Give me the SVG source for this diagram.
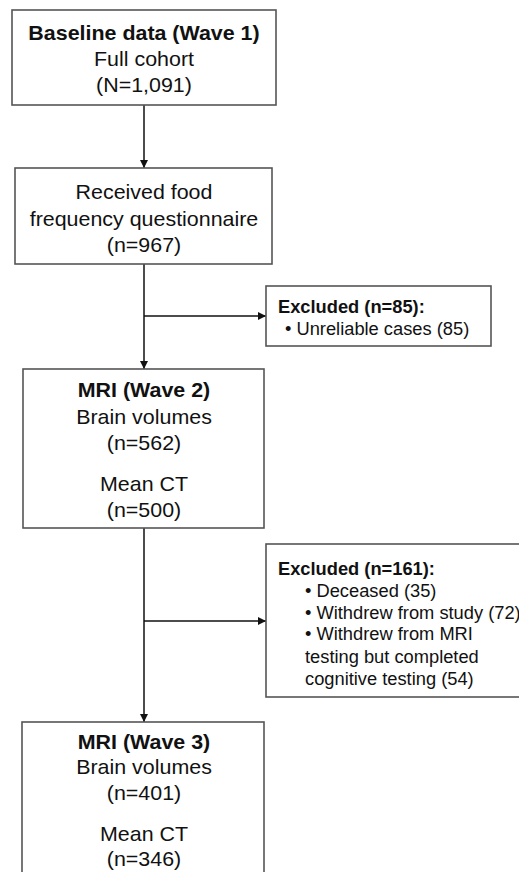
<svg xmlns="http://www.w3.org/2000/svg" width="519" height="872" viewBox="0 0 519 872">
<style>
.box{fill:#fff;stroke:#555;stroke-width:1.6}
.t{font-family:"Liberation Sans",Arial,sans-serif;font-size:21px;fill:#111;text-anchor:middle}
.b{font-weight:bold}
.x{font-family:"Liberation Sans",Arial,sans-serif;font-size:18.3px;fill:#111}
.c{stroke:#111;stroke-width:1.5;fill:none}
</style>
<defs>
<marker id="arr" viewBox="0 0 10 10" refX="10" refY="5" markerWidth="8" markerHeight="8" markerUnits="userSpaceOnUse" orient="auto">
<path d="M0,0 L10,5 L0,10 z" fill="#111"/>
</marker>
</defs>
<rect width="519" height="872" fill="#fff"/>
<g id="connectors">
<line class="c" x1="144" y1="105" x2="144" y2="168" marker-end="url(#arr)"/>
<line class="c" x1="144" y1="264" x2="144" y2="369" marker-end="url(#arr)"/>
<line class="c" x1="144" y1="316" x2="266" y2="316" marker-end="url(#arr)"/>
<line class="c" x1="144" y1="528" x2="144" y2="722" marker-end="url(#arr)"/>
<line class="c" x1="144" y1="621" x2="266" y2="621" marker-end="url(#arr)"/>
</g>
<g id="baseline">
<rect class="box" x="12" y="10" width="264" height="95"/>
<text class="t b" transform="translate(144,40) scale(1.02,1)">Baseline data (Wave 1)</text>
<text class="t" transform="translate(144,66) scale(1.02,1)">Full cohort</text>
<text class="t" transform="translate(144,92) scale(1.02,1)">(N=1,091)</text>
</g>
<g id="ffq">
<rect class="box" x="15" y="168" width="257" height="96"/>
<text class="t" transform="translate(144,199) scale(1.02,1)">Received food</text>
<text class="t" transform="translate(144,225.5) scale(1.02,1)">frequency questionnaire</text>
<text class="t" transform="translate(144,252) scale(1.02,1)">(n=967)</text>
</g>
<g id="excluded1">
<rect class="box" x="266" y="286" width="225" height="60"/>
<text class="x b" x="278" y="312.5">Excluded (n=85):</text>
<text class="x" x="285" y="335">• Unreliable cases (85)</text>
</g>
<g id="mri2">
<rect class="box" x="23" y="369" width="241" height="159"/>
<text class="t b" transform="translate(144,397) scale(1.02,1)">MRI (Wave 2)</text>
<text class="t" transform="translate(144,423.5) scale(1.02,1)">Brain volumes</text>
<text class="t" transform="translate(144,449.5) scale(1.02,1)">(n=562)</text>
<text class="t" transform="translate(144,490.5) scale(1.02,1)">Mean CT</text>
<text class="t" transform="translate(144,516.5) scale(1.02,1)">(n=500)</text>
</g>
<g id="excluded2">
<rect class="box" x="266" y="544" width="260" height="153"/>
<text class="x b" x="278" y="575">Excluded (n=161):</text>
<text class="x" x="305" y="597">• Deceased (35)</text>
<text class="x" x="305" y="618.5">• Withdrew from study (72)</text>
<text class="x" x="305" y="640">• Withdrew from MRI</text>
<text class="x" x="305" y="662.5">testing but completed</text>
<text class="x" x="305" y="685">cognitive testing (54)</text>
</g>
<g id="mri3">
<rect class="box" x="22" y="722" width="242" height="160"/>
<text class="t b" transform="translate(144,748.5) scale(1.02,1)">MRI (Wave 3)</text>
<text class="t" transform="translate(144,774) scale(1.02,1)">Brain volumes</text>
<text class="t" transform="translate(144,799.5) scale(1.02,1)">(n=401)</text>
<text class="t" transform="translate(144,840.5) scale(1.02,1)">Mean CT</text>
<text class="t" transform="translate(144,866) scale(1.02,1)">(n=346)</text>
</g>
</svg>
